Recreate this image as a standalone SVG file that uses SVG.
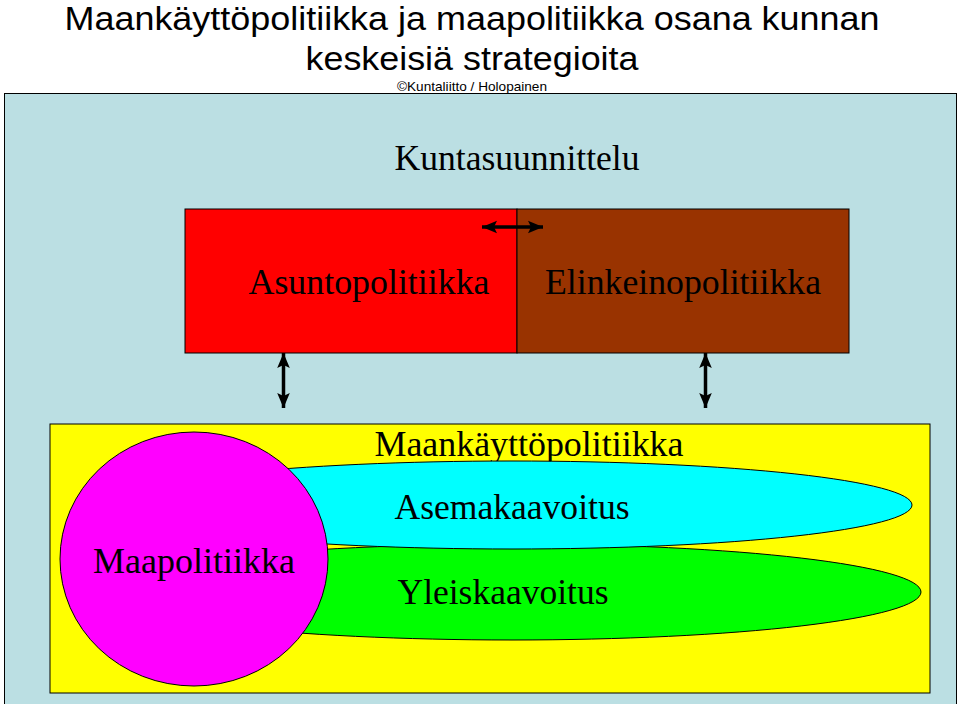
<svg xmlns="http://www.w3.org/2000/svg" width="960" height="704" viewBox="0 0 960 704">
<style>
.sans{font-family:"Liberation Sans",Arial,sans-serif;fill:#000}
.serif{font-family:"Liberation Serif","Times New Roman",serif;fill:#000;font-size:36px}
.shape{stroke:#000;stroke-width:1}
.conn{stroke:#000;stroke-width:3.5;fill:none;marker-start:url(#ah);marker-end:url(#ah)}
</style>
<defs>
<marker id="ah" viewBox="0 0 10 10" refX="10" refY="5" markerWidth="15" markerHeight="15" orient="auto-start-reverse" markerUnits="userSpaceOnUse">
<path d="M0,0.8 L10,5 L0,9.2 L2,5 Z" fill="#000"/>
</marker>
</defs>
<rect x="0" y="0" width="960" height="704" fill="#fff"/>
<g id="title">
<text class="sans" x="472" y="30" font-size="33" text-anchor="middle" textLength="815" lengthAdjust="spacingAndGlyphs">Maankäyttöpolitiikka ja maapolitiikka osana kunnan</text>
<text class="sans" x="472" y="70" font-size="34" text-anchor="middle" textLength="333" lengthAdjust="spacingAndGlyphs">keskeisiä strategioita</text>
<text class="sans" x="472" y="91" font-size="13" text-anchor="middle" textLength="150" lengthAdjust="spacingAndGlyphs">©Kuntaliitto / Holopainen</text>
</g>
<g id="kuntasuunnittelu">
<rect class="shape" x="4.5" y="93.5" width="952" height="612" fill="#BBDFE3" stroke="#333"/>
<text class="serif" x="517" y="170" text-anchor="middle" textLength="245" lengthAdjust="spacingAndGlyphs">Kuntasuunnittelu</text>
</g>
<g id="asuntopolitiikka">
<rect class="shape" x="185" y="209" width="332" height="144" fill="#FF0000"/>
<text class="serif" x="369" y="294" text-anchor="middle" textLength="241" lengthAdjust="spacingAndGlyphs">Asuntopolitiikka</text>
</g>
<g id="elinkeinopolitiikka">
<rect class="shape" x="517" y="209" width="332" height="144" fill="#993300"/>
<text class="serif" x="683" y="294" text-anchor="middle" textLength="276" lengthAdjust="spacingAndGlyphs">Elinkeinopolitiikka</text>
</g>
<g id="maankayttopolitiikka">
<rect class="shape" x="50" y="424" width="880" height="269" fill="#FFFF00"/>
<text class="serif" x="529" y="456" text-anchor="middle" textLength="309" lengthAdjust="spacingAndGlyphs">Maankäyttöpolitiikka</text>
</g>
<g id="yleiskaavoitus">
<ellipse class="shape" cx="512" cy="592" rx="409" ry="48" fill="#00FF00"/>
<text class="serif" x="503" y="604" text-anchor="middle" textLength="211" lengthAdjust="spacingAndGlyphs">Yleiskaavoitus</text>
</g>
<g id="asemakaavoitus">
<ellipse class="shape" cx="512" cy="505" rx="400" ry="44" fill="#00FFFF"/>
<text class="serif" x="512" y="519" text-anchor="middle" textLength="235" lengthAdjust="spacingAndGlyphs">Asemakaavoitus</text>
</g>
<g id="maapolitiikka">
<ellipse class="shape" cx="194" cy="559" rx="134" ry="127" fill="#FF00FF"/>
<text class="serif" x="194" y="573" text-anchor="middle" textLength="202" lengthAdjust="spacingAndGlyphs">Maapolitiikka</text>
</g>
<g id="connectors">
<line class="conn" x1="482" y1="227" x2="543" y2="227"/>
<line class="conn" x1="283.5" y1="353" x2="283.5" y2="408"/>
<line class="conn" x1="705.5" y1="353" x2="705.5" y2="408"/>
</g>
</svg>
